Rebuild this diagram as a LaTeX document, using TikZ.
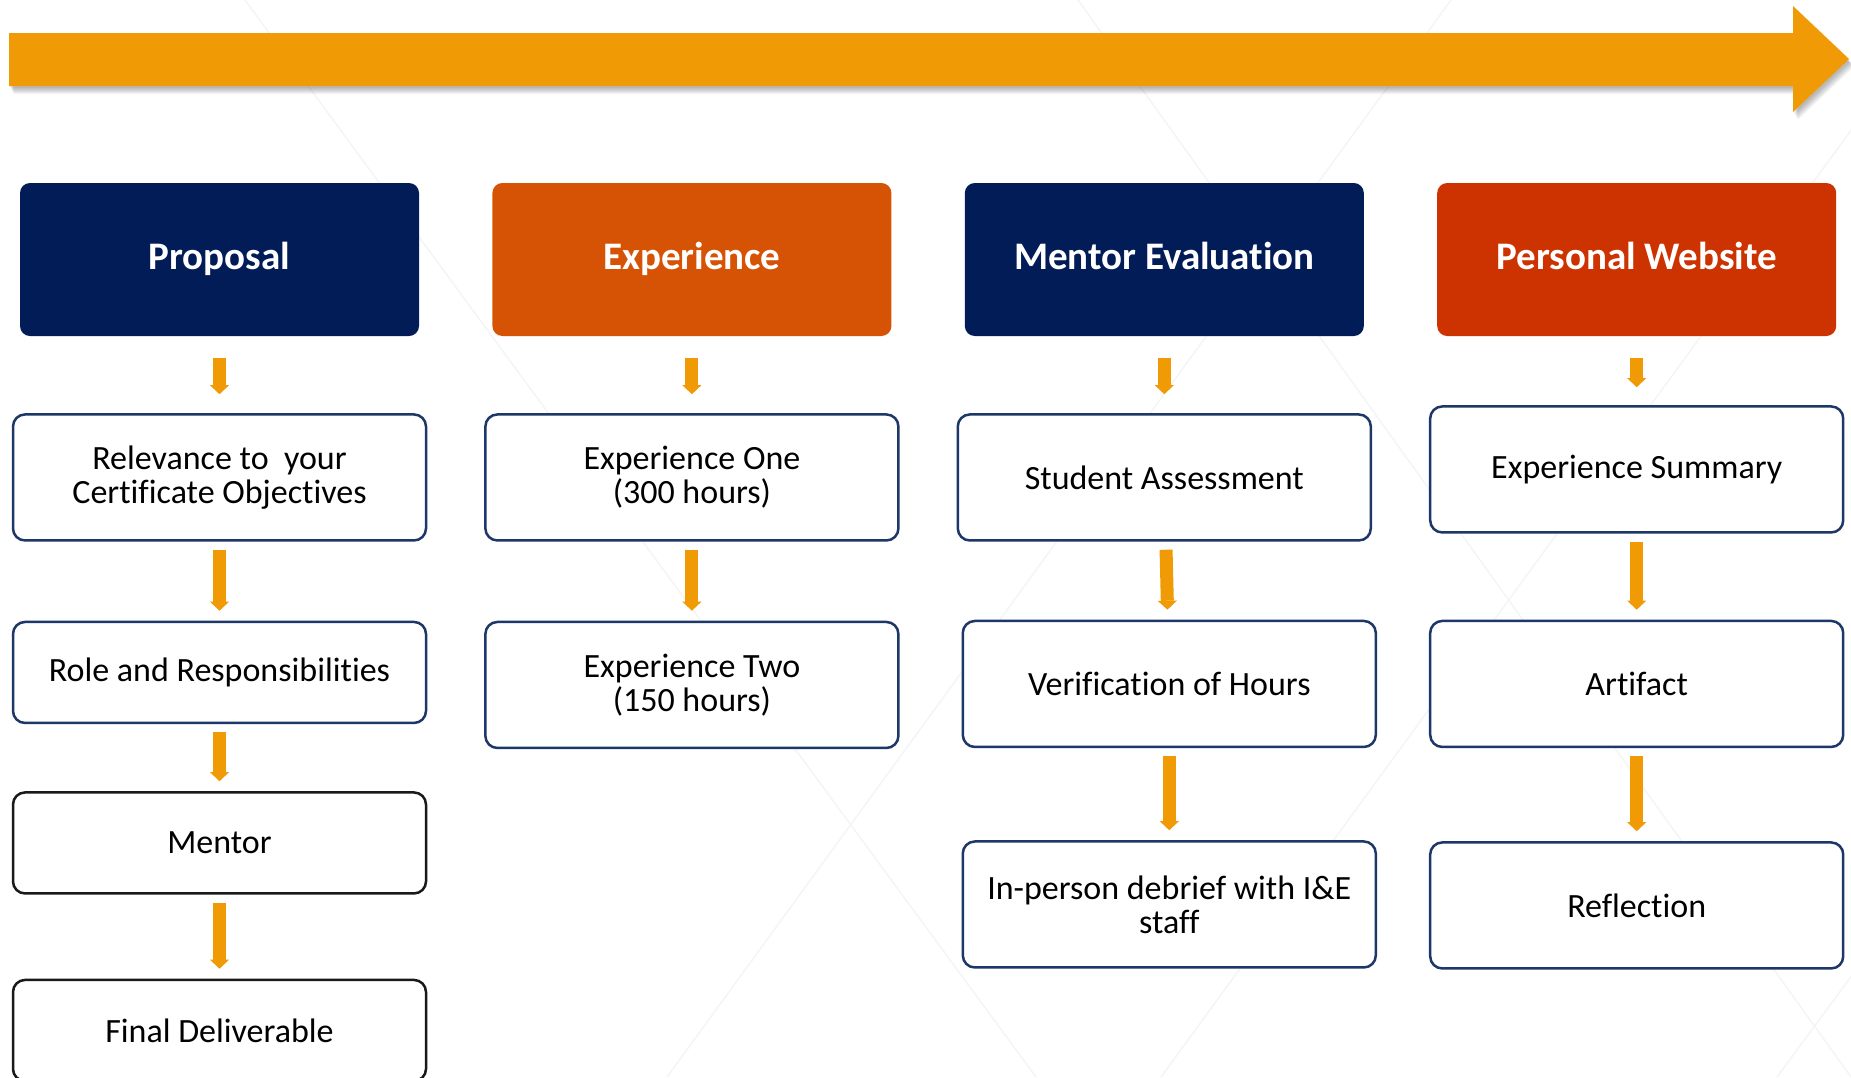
\documentclass[tikz,border=0pt]{standalone}
\usepackage{fontspec}
\setmainfont{Carlito}[Ligatures=NoCommon]
\usetikzlibrary{arrows.meta,positioning}

\definecolor{navy}{RGB}{1,28,87}
\definecolor{rust}{RGB}{214,83,5}
\definecolor{brick}{RGB}{204,51,0}
\definecolor{amber}{RGB}{240,154,6}
\definecolor{frame}{RGB}{30,55,105}

\newcommand\timeline{(9,33) -- (1793,33) -- (1793,6) -- (1849,59) -- (1793,112) -- (1793,86) -- (9,86) -- cycle}

\begin{document}
\begin{tikzpicture}[x=1pt,y=-1pt,node distance=77pt,
                    every node/.style={font=\fontsize{34}{34}\selectfont,align=center}]
  \tikzstyle{head}=[rounded corners=10pt,minimum width=399pt,minimum height=153pt,
                    text height=27pt,text depth=8pt,
                    text=white,font=\fontsize{39}{44}\selectfont\bfseries]
  \tikzstyle{box}=[draw=frame,line width=2.5pt,rounded corners=12pt,fill=white,
                   minimum width=413pt,minimum height=126pt]
  \tikzstyle{flow}=[draw=amber,line width=13pt,
                    -{Triangle[width=19pt,length=9pt,line width=0pt]},
                    shorten <=8pt,shorten >=10pt]

  \clip (0,0) rectangle (1851,1077);
  \fill[white] (0,0) rectangle (1851,1077);

  % faint background lines
  \draw[black!4,line width=1.5pt]
    (245,0) -- (1036,1077)
    (1451,0) -- (667,1077)
    (1078,0) -- (1851,1077)
    (1946,0) -- (1161,1077)
    (2571,0) -- (1777,1077);

  % timeline arrow with soft shadow
  \foreach \s in {2,...,8}
    \fill[black,opacity=0.045,xshift={0.6*\s pt},yshift={-\s pt}] \timeline;
  \fill[amber] \timeline;

	\node[head,fill=navy]	(0) at (219.5,259.5)	{Proposal};
	\node[head,fill=rust]	(1) [right=73pt of 0]	{Experience};
	\node[head,fill=navy]	(2) [right=73pt of 1]	{Mentor Evaluation};
	\node[head,fill=brick]	(3) [right=73pt of 2]	{Personal Website};

	\node[box]	(4) [below=of 0]	{Relevance to~ your\\Certificate Objectives};
	\node[box,minimum height=101pt]	(5) [below=79pt of 4]	{Role and Responsibilities};
	\node[box,draw=black!90,minimum height=101pt]	(6) [below=67pt of 5]	{Mentor};
	\node[box,draw=black!90,minimum height=101pt]	(7) [below=84pt of 6]	{Final Deliverable};

	\node[box]	(8) [below=of 1]	{Experience One\\(300 hours)};
	\node[box]	(9) [below=79pt of 8]	{Experience Two\\(150 hours)};

	\node[box]	(10) [below=of 2]	{Student Assessment};
	\node[box,xshift=5pt]	(11) [below=78pt of 10]	{Verification of Hours};
	\node[box]	(12) [below=92pt of 11]	{In-person debrief with I\&E\\staff};

	\node[box]	(13) [below=69pt of 3]	{Experience Summary};
	\node[box]	(14) [below=86pt of 13]	{Artifact};
	\node[box]	(15) [below=93pt of 14]	{Reflection};

	\path
		(0) edge[flow,shorten <=22pt,shorten >=19pt]	(4)
		(4) edge[flow]	(5)
		(5) edge[flow]	(6)
		(6) edge[flow]	(7)
		(1) edge[flow,shorten <=22pt,shorten >=19pt]	(8)
		(8) edge[flow]	(9)
		(2) edge[flow,shorten <=22pt,shorten >=19pt]	(10)
		(10) edge[flow]	(11)
		(11) edge[flow]	(12)
		(3) edge[flow,shorten <=22pt,shorten >=18pt]	(13)
		(13) edge[flow]	(14)
		(14) edge[flow]	(15);

\end{tikzpicture}
\end{document}
